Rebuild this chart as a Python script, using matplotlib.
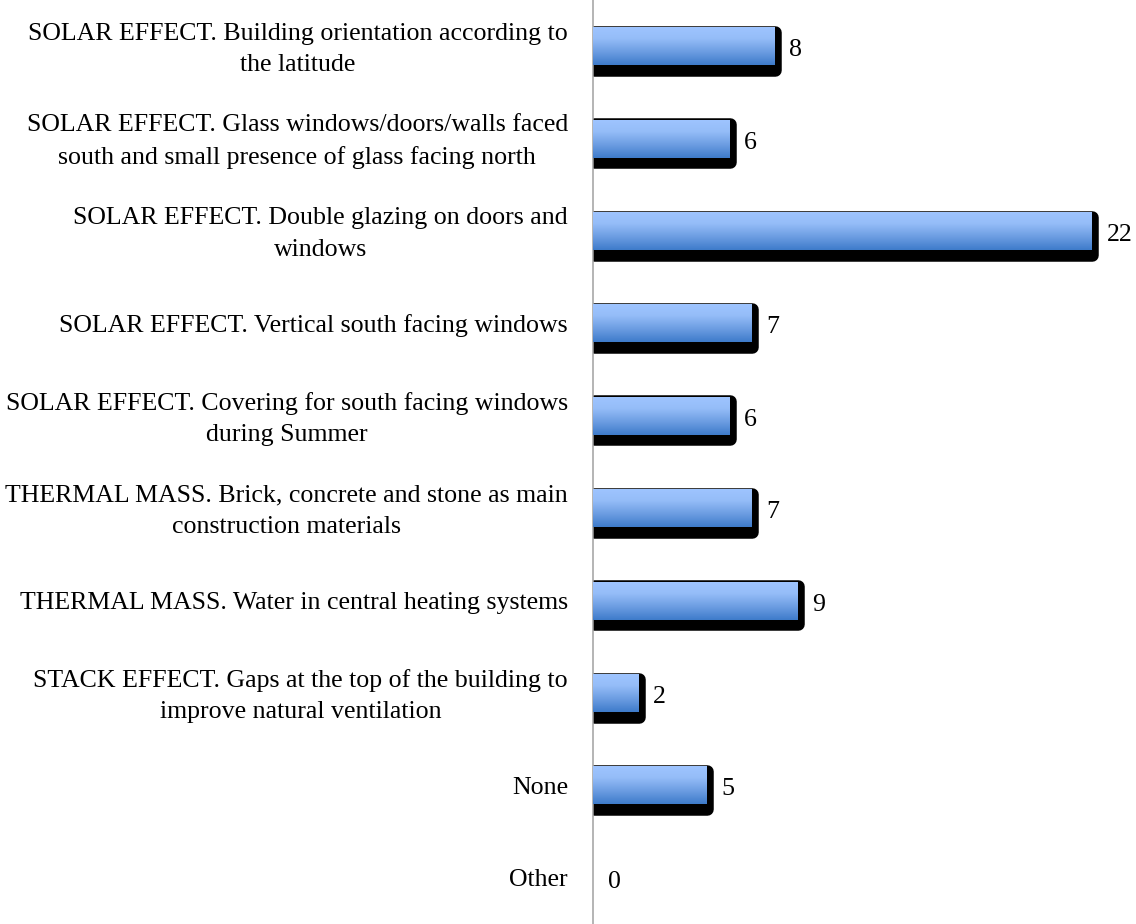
import numpy as np
import matplotlib
matplotlib.use("Agg")
import matplotlib.pyplot as plt
from matplotlib.colors import LinearSegmentedColormap
from matplotlib.transforms import ScaledTranslation

# Survey responses: passive design features present in the building
categories = [
    "SOLAR EFFECT. Building orientation according to\nthe latitude",
    "SOLAR EFFECT. Glass windows/doors/walls faced\nsouth and small presence of glass facing north",
    "SOLAR EFFECT. Double glazing on doors and\nwindows",
    "SOLAR EFFECT. Vertical south facing windows",
    "SOLAR EFFECT. Covering for south facing windows\nduring Summer",
    "THERMAL MASS. Brick, concrete and stone as main\nconstruction materials",
    "THERMAL MASS. Water in central heating systems",
    "STACK EFFECT. Gaps at the top of the building to\nimprove natural ventilation",
    "None",
    "Other",
]
counts = [8, 6, 22, 7, 6, 7, 9, 2, 5, 0]

plt.rcParams["font.family"] = ["Liberation Serif", "DejaVu Serif"]
FONT_SIZE = 18.6

DPI = 100
fig = plt.figure(figsize=(11.36, 9.24), dpi=DPI)
ax = fig.add_axes([593 / 1136, 0.0, 1 - 593 / 1136, 1.0])

pos = np.arange(len(categories))
bar_h = 0.411
px = 1.0 / DPI  # one pixel in inches

# black outline / drop shadow behind each bar (rounded via thick round-joined edge)
shadow_lw_px = 12.5
shadow_offset = ScaledTranslation(0.75 * px, -4.6 * px, fig.dpi_scale_trans)
ax.barh(pos, counts, height=bar_h, color="black", edgecolor="black",
        linewidth=[shadow_lw_px * 72 / DPI if c > 0 else 0 for c in counts],
        joinstyle="round", transform=ax.transData + shadow_offset, zorder=2)

# gradient-filled bars
grad_cmap = LinearSegmentedColormap.from_list(
    "bar_grad",
    [(0.0, "#9EC4FF"), (0.3, "#95BDF8"), (0.65, "#6C9DE2"), (1.0, "#3E7BCA")])
bars = ax.barh(pos, counts, height=bar_h, color="none", linewidth=0, zorder=3)
gradient = np.linspace(0, 1, 256).reshape(-1, 1)
for patch in bars.patches:
    x0, y0 = patch.get_x(), patch.get_y()
    w, h = patch.get_width(), patch.get_height()
    if w <= 0:
        continue
    im = ax.imshow(gradient, cmap=grad_cmap, aspect="auto",
                   extent=(x0, x0 + w, y0 + h, y0), origin="upper",
                   interpolation="bicubic", zorder=3)
    im.set_clip_path(patch)

# value labels
for p, c in zip(pos, counts):
    ax.annotate(str(c), xy=(c, p), xytext=(15, -4), textcoords="offset pixels",
                ha="left", va="center", fontsize=FONT_SIZE, color="black",
                zorder=4)

ax.set_xlim(0, (1136 - 593) / 22.67)
ax.set_ylim(len(categories) - 0.5, -0.5)

# category labels, right-aligned a short gap left of the axis line
label_tf = ax.get_yaxis_transform()
for p, name in zip(pos, categories):
    multi = "\n" in name
    shift = ScaledTranslation(-25 * px, (-3 if multi else 0) * px,
                              fig.dpi_scale_trans)
    ax.text(0, p, name, transform=label_tf + shift, ha="right",
            va="center" if multi else "center_baseline",
            multialignment="center", linespacing=1.55,
            fontsize=FONT_SIZE, color="black", clip_on=False)

ax.set_yticks([])
ax.set_xticks([])

for side in ("top", "right", "bottom"):
    ax.spines[side].set_visible(False)
ax.spines["left"].set_color("#A0A0A0")
ax.spines["left"].set_linewidth(1.1)
ax.set_facecolor("white")

fig.savefig("out.png", dpi=DPI, facecolor="white")
